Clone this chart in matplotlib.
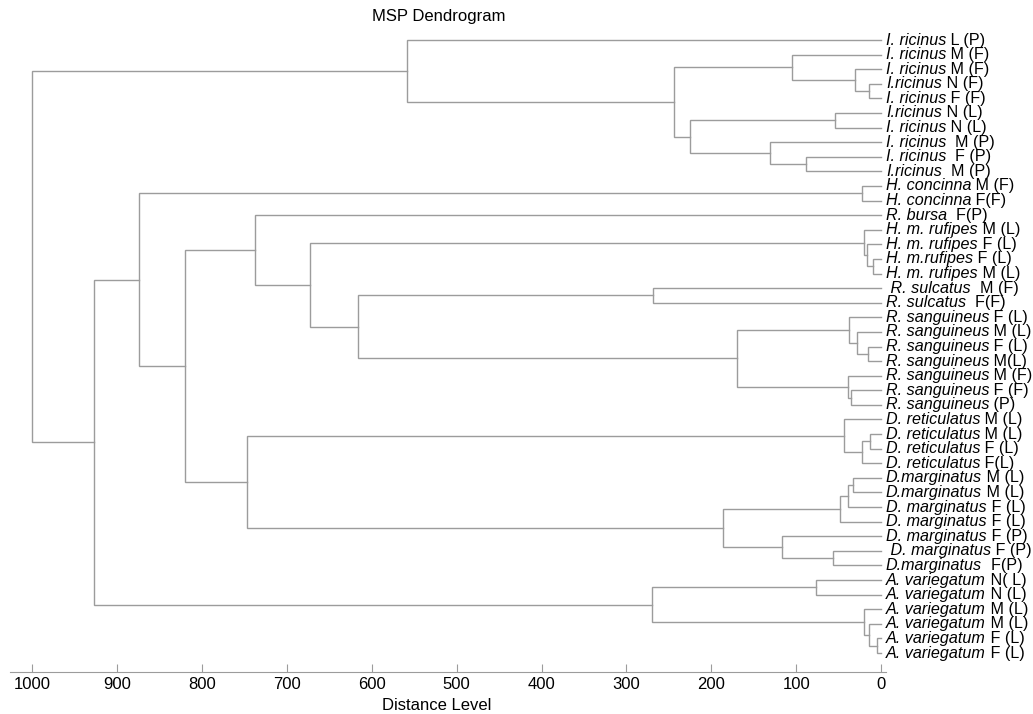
import matplotlib
matplotlib.use("Agg")
import matplotlib.pyplot as plt
from matplotlib.transforms import offset_copy

# leaf labels: italic species part + plain suffix
species = ["I. ricinus", "I. ricinus", "I. ricinus", "I.ricinus", "I. ricinus",
           "I.ricinus", "I. ricinus", "I. ricinus", "I. ricinus", "I.ricinus",
           "H. concinna", "H. concinna", "R. bursa",
           "H. m. rufipes", "H. m. rufipes", "H. m.rufipes", "H. m. rufipes",
           " R. sulcatus", "R. sulcatus",
           "R. sanguineus", "R. sanguineus", "R. sanguineus", "R. sanguineus",
           "R. sanguineus", "R. sanguineus", "R. sanguineus",
           "D. reticulatus", "D. reticulatus", "D. reticulatus", "D. reticulatus",
           "D.marginatus", "D.marginatus", "D. marginatus", "D. marginatus",
           "D. marginatus", " D. marginatus", "D.marginatus",
           "A. variegatum", "A. variegatum", "A. variegatum", "A. variegatum",
           "A. variegatum", "A. variegatum"]
suffix = [" L (P)", " M (F)", " M (F)", " N (F)", " F (F)",
          " N (L)", " N (L)", "  M (P)", "  F (P)", "  M (P)",
          " M (F)", " F(F)", "  F(P)",
          " M (L)", " F (L)", " F (L)", " M (L)",
          "  M (F)", "  F(F)",
          " F (L)", " M (L)", " F (L)", " M(L)",
          " M (F)", " F (F)", " (P)",
          " M (L)", " M (L)", " F (L)", " F(L)",
          " M (L)", " M (L)", " F (L)", " F (L)",
          " F (P)", " F (P)", "  F(P)",
          " N( L)", " N (L)", " M (L)", " M (L)",
          " F (L)", " F (L)"]

# merges: (child a, child b, distance); leaves are 0..42, merge k gets id 43+k
merges = [
    (3, 4, 14), (2, 43, 31), (1, 44, 105), (5, 6, 54), (8, 9, 88),
    (7, 47, 131), (46, 48, 225), (45, 49, 244), (0, 50, 559),
    (10, 11, 22),
    (15, 16, 10), (14, 53, 17), (13, 54, 20),
    (17, 18, 269),
    (21, 22, 15), (20, 57, 28), (19, 58, 38),
    (24, 25, 35), (23, 60, 39), (59, 61, 170),
    (56, 62, 616), (55, 63, 673), (12, 64, 738),
    (27, 28, 13), (66, 29, 22), (26, 67, 44),
    (30, 31, 33), (69, 32, 39), (70, 33, 48),
    (35, 36, 57), (34, 72, 117), (71, 73, 186),
    (68, 74, 747), (65, 75, 820), (52, 76, 874),
    (41, 42, 5), (40, 78, 14), (39, 79, 20), (37, 38, 77),
    (81, 80, 270), (77, 82, 927), (51, 83, 1000),
]

xticks = [1000, 900, 800, 700, 600, 500, 400, 300, 200, 100, 0]

n = len(species)
W, H = 1033, 714
fig = plt.figure(figsize=(W / 100, H / 100), dpi=100)
ax = fig.add_axes([10 / W, (H - 672) / H, 876 / W, (672 - 26) / H])

line_col = "#9c9c9c"
ypos = {i: float(i) for i in range(n)}
height = {i: 0.0 for i in range(n)}
for k, (a, b, h) in enumerate(merges):
    ax.plot([height[a], h, h, height[b]], [ypos[a], ypos[a], ypos[b], ypos[b]],
            color=line_col, lw=1.0, solid_joinstyle="miter")
    ypos[n + k] = (ypos[a] + ypos[b]) / 2
    height[n + k] = h

ax.set_xlim(1026.3, -5.9)
ax.set_ylim(43.3, -0.96)

for s in ["top", "left", "right"]:
    ax.spines[s].set_visible(False)
ax.spines["bottom"].set_color(line_col)
ax.set_yticks([])
ax.set_xticks(xticks)
ax.set_xticklabels([str(v) for v in xticks])
ax.tick_params(axis="x", direction="in", length=6, color=line_col, pad=3.5,
               labelsize=12)
for lab in ax.get_xticklabels():
    lab.set_family("Liberation Sans")

fs = 11.6
renderer = fig.canvas.get_renderer()
base = offset_copy(ax.transData, fig, x=5 * 72 / 100, units="points")
for i in range(n):
    t = ax.text(0, i, species[i], transform=base, style="italic", fontsize=fs,
                family="Liberation Sans", va="center", ha="left")
    w = t.get_window_extent(renderer).width
    tr = offset_copy(ax.transData, fig, x=(5 + w) * 72 / 100, units="points")
    ax.text(0, i, suffix[i], transform=tr, fontsize=fs,
            family="Liberation Sans", va="center", ha="left")

fig.text(439 / W, 1 - 17 / H, "MSP Dendrogram", ha="center", va="center",
         fontsize=12, family="Liberation Sans")
fig.text(437 / W, 1 - 705 / H, "Distance Level", ha="center", va="center",
         fontsize=12, family="Liberation Sans")

fig.savefig("out.png", dpi=100)
